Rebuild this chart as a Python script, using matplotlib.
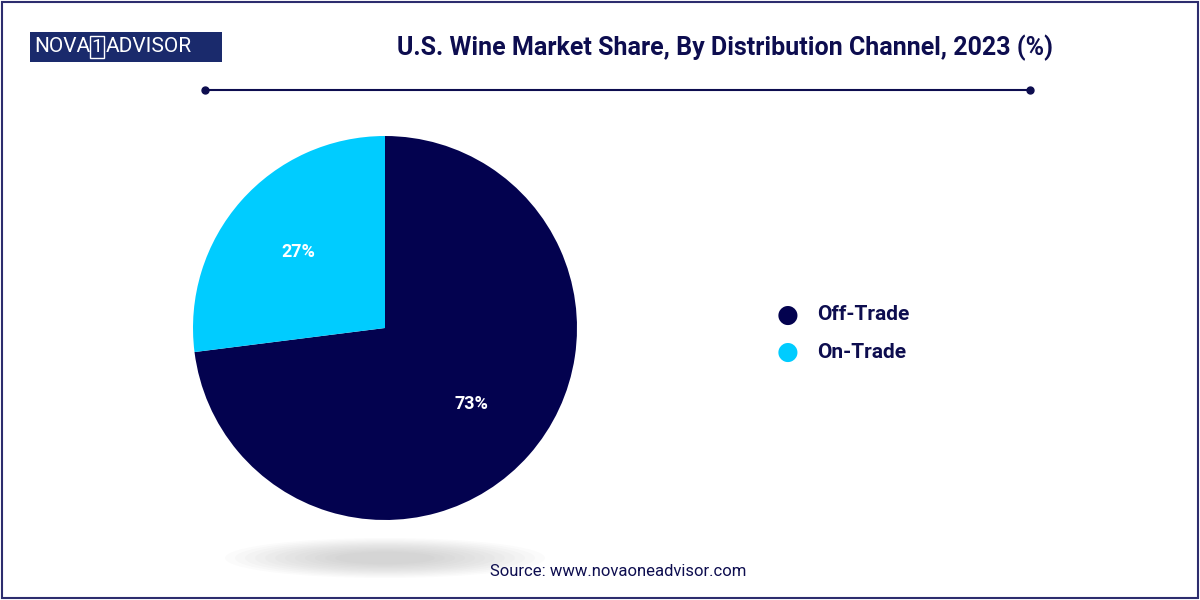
import matplotlib
matplotlib.use("Agg")
import matplotlib.pyplot as plt
from matplotlib.patches import Ellipse, Rectangle
import numpy as np

categories = ["Off-Trade", "On-Trade"]
values = [73, 27]
labels = ["73%", "27%"]
colors = ["#03024f", "#00ccff"]
navy = "#0d0d4f"

fig = plt.figure(figsize=(12, 6), dpi=100)
fig.patch.set_facecolor("white")
fig.add_artist(Rectangle((0.002, 0.003), 0.996, 0.994, transform=fig.transFigure,
                         fill=False, edgecolor="#2d2d6e", lw=1.5))

sh = fig.add_axes([0, 0, 1, 1]); sh.set_xlim(0, 1200); sh.set_ylim(600, 0); sh.axis("off")
for i in range(12):
    sh.add_patch(Ellipse((385, 558), 320 - i * 20, 40 - i * 2.5, color="#888888", alpha=0.03, lw=0))
sh.plot([205, 1030], [90, 90], color=navy, lw=1.5)
sh.plot([205, 1030], [90, 90], "o", color=navy, ms=5)

ax = fig.add_axes([(385 - 192) / 1200, (600 - 328 - 192) / 600, 384 / 1200, 384 / 600])
wedges, texts = ax.pie(values, colors=colors, startangle=90, counterclock=False,
                       wedgeprops=dict(linewidth=0), radius=1)
ax.set_xlim(-1, 1); ax.set_ylim(-1, 1)
ax.set_aspect("equal")
for w, lab in zip(wedges, labels):
    ang = np.deg2rad((w.theta1 + w.theta2) / 2)
    ax.text(0.6 * np.cos(ang), 0.6 * np.sin(ang), lab, ha="center", va="center",
            color="white", fontsize=13, fontweight="bold", family="Roboto")

fig.text(725 / 1200, 1 - 48 / 600, "U.S. Wine Market Share, By Distribution Channel, 2023 (%)",
         ha="center", va="center", fontsize=18, fontweight="bold", color=navy, family="Roboto")

for i, (c, col) in enumerate(zip(categories, colors)):
    y = 1 - (315 + 37 * i) / 600
    fig.text(788 / 1200, y, "●", color=col, fontsize=18, ha="center", va="center")
    fig.text(817 / 1200, y, c, color=navy, fontsize=15, fontweight="bold", ha="left", va="center", family="Roboto")

fig.text(618 / 1200, 1 - 572 / 600, "Source: www.novaoneadvisor.com", ha="center", va="center",
         fontsize=12, color=navy, family="Roboto")

fig.add_artist(Rectangle((30 / 1200, 1 - 62 / 600), 192 / 1200, 30 / 600, transform=fig.transFigure,
                         facecolor="#1a2a6c", edgecolor="none"))
fig.text(34 / 1200, 1 - 47 / 600, "NOVA", color="white", fontsize=15, va="center", family="Roboto")
fig.text(97 / 1200, 1 - 47 / 600, "1", color="white", fontsize=14, va="center", ha="center", family="Roboto",
         bbox=dict(boxstyle="square,pad=0.1", fc="none", ec="white", lw=1))
fig.text(106 / 1200, 1 - 47 / 600, "ADVISOR", color="white", fontsize=15, va="center", family="Roboto")

fig.savefig("out.png", dpi=100)
